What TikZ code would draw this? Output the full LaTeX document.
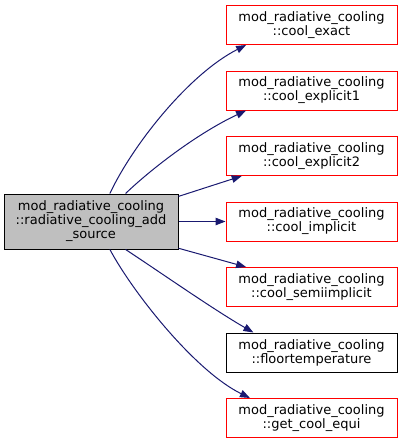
\documentclass[tikz,border=0pt]{standalone}
\usepackage{fontspec}
\setmainfont{DejaVu Sans}
\usepackage{tikz}
\usetikzlibrary{arrows.meta}
\definecolor{EdgeNavy}{RGB}{25,25,112}
\definecolor{NodeRed}{RGB}{255,0,0}
\definecolor{RootGray}{RGB}{191,191,191}

\begin{document}
\begin{tikzpicture}[x=1pt,y=-1pt,>={Triangle[length=10pt,width=7.5pt]},
    fn/.style={draw=NodeRed,fill=white,line width=1pt,minimum width=171pt,minimum height=39pt,
      inner sep=0pt,align=center,font=\fontsize{13}{14}\selectfont},
    root/.style={fn,draw=black,fill=RootGray,minimum width=174pt,minimum height=55pt},
    call/.style={->,EdgeNavy,line width=1pt}]
      \useasboundingbox (0,0) rectangle (403,444);
      % caller
      \node[root] (src) at (91,221.5) {mod\_radiative\_cooling\\::radiative\_cooling\_add\\\_source};
      % callees
      \node[fn] (exact) at (311.5,25) {mod\_radiative\_cooling\\::cool\_exact};
      \node[fn] (expl1) at (311.5,90.5) {mod\_radiative\_cooling\\::cool\_explicit1};
      \node[fn] (expl2) at (311.5,156) {mod\_radiative\_cooling\\::cool\_explicit2};
      \node[fn] (impl) at (311.5,221.5) {mod\_radiative\_cooling\\::cool\_implicit};
      \node[fn] (semi) at (311.5,287) {mod\_radiative\_cooling\\::cool\_semiimplicit};
      \node[fn,draw=black] (floor) at (311.5,352.5) {mod\_radiative\_cooling\\::floortemperature};
      \node[fn] (equi) at (311.5,418) {mod\_radiative\_cooling\\::get\_cool\_equi};
      \draw[call] (src.56.4) .. controls +(23,-49) and +(-57,29) .. (exact.197);
      \draw[call] (src.39) .. controls +(25,-24) and +(-49,23) .. (expl1.197);
      \draw[call] (src.16.6) -- (expl2.196);
      \draw[call] (src.east) -- (impl.west);
      \draw[call] (src.-17) -- (semi.163.6);
      \draw[call] (src.-39) .. controls +(35,23) and +(-40,-23) .. (floor.161);
      \draw[call] (src.-56.4) .. controls +(23,43) and +(-55,-27) .. (equi.162.4);
    \end{tikzpicture}
\end{document}
